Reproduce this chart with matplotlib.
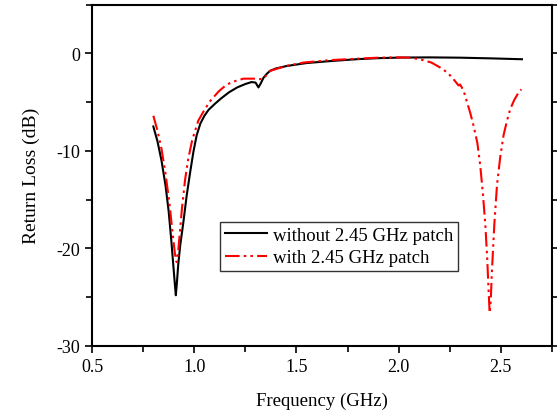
import matplotlib
matplotlib.use("Agg")
import matplotlib.pyplot as plt
from matplotlib.ticker import MultipleLocator

plt.rcParams['font.family'] = ['Liberation Serif', 'DejaVu Serif']
plt.rcParams['axes.unicode_minus'] = False

# Without 2.45 GHz patch (black solid)
f_without = [0.80, 0.82, 0.84, 0.86, 0.875, 0.888, 0.898, 0.905, 0.910, 0.915, 0.922, 0.932,
             0.947, 0.963, 0.980, 0.996, 1.012, 1.03, 1.05, 1.07, 1.10, 1.13, 1.17, 1.21,
             1.25, 1.28, 1.300, 1.314, 1.325, 1.339, 1.355, 1.371, 1.40, 1.453, 1.55, 1.665,
             1.80, 1.90, 2.007, 2.15, 2.30, 2.45, 2.603]
rl_without = [-7.5, -9.0, -11.0, -13.6, -16.2, -19.2, -21.8, -23.6, -24.8, -23.6, -21.6, -19.6,
              -17.3, -14.6, -12.2, -10.1, -8.4, -7.2, -6.4, -5.8, -5.2, -4.65, -4.0, -3.5,
              -3.15, -2.95, -3.0, -3.5, -3.1, -2.5, -2.1, -1.8, -1.55, -1.3, -1.0, -0.8,
              -0.6, -0.5, -0.44, -0.42, -0.45, -0.52, -0.61]

# With 2.45 GHz patch (red dash-dot-dot)
f_with = [0.80, 0.82, 0.84, 0.86, 0.88, 0.895, 0.906, 0.914, 0.922, 0.930, 0.940, 0.955,
          0.970, 0.990, 1.020, 1.05, 1.078, 1.12, 1.159, 1.20, 1.241, 1.29, 1.320, 1.339,
          1.355, 1.371, 1.45, 1.534, 1.665, 1.80, 1.90, 2.007, 2.05, 2.105, 2.16, 2.203,
          2.24, 2.268, 2.293, 2.300, 2.309, 2.320, 2.334, 2.350, 2.366, 2.385, 2.399, 2.412,
          2.424, 2.433, 2.440, 2.445, 2.450, 2.456, 2.468, 2.481, 2.497, 2.513, 2.530,
          2.546, 2.565, 2.587, 2.600]
rl_with = [-6.4, -7.9, -9.8, -12.4, -15.6, -18.6, -20.6, -21.4, -20.2, -18.3, -15.9, -13.0,
           -10.9, -8.9, -6.9, -5.8, -4.9, -3.9, -3.2, -2.85, -2.6, -2.6, -2.65, -2.6,
           -2.2, -1.8, -1.3, -0.95, -0.7, -0.55, -0.45, -0.42, -0.45, -0.61, -0.95, -1.46,
           -2.0, -2.65, -3.3, -3.2, -3.5, -4.0, -5.0, -6.1, -7.4, -9.2, -11.5, -14.4,
           -17.6, -21.0, -24.4, -26.6, -25.5, -22.4, -17.5, -13.5, -10.6, -8.4, -6.9,
           -5.7, -4.8, -4.0, -3.7]

xticks = [0.5, 1.0, 1.5, 2.0, 2.5]
yticks = [0, -10, -20, -30]

fig = plt.figure(figsize=(5.57, 4.14), dpi=100)
ax = fig.add_axes([92/557, (414-347)/414, (552-92)/557, (347-5.5)/414])

ax.plot(f_without, rl_without, color='black', lw=1.5, label='without 2.45 GHz patch')
ax.plot(f_with, rl_with, color='red', lw=1.5, linestyle=(0, (7, 2, 1.2, 2, 1.2, 2)),
        label='with 2.45 GHz patch')

ax.set_xlim(0.5, 2.75)
ax.set_ylim(-30, 5)
ax.set_xticks(xticks)
ax.set_xticklabels(['0.5', '1.0', '1.5', '2.0', '2.5'])
ax.set_yticks(yticks)
ax.xaxis.set_minor_locator(MultipleLocator(0.25))
ax.yaxis.set_minor_locator(MultipleLocator(5))
ax.tick_params(which='both', direction='out', top=False, right=True, labelsize=13, width=1.2)
ax.tick_params(which='major', length=5)
ax.tick_params(which='minor', length=4)
for s in ax.spines.values():
    s.set_linewidth(1.5)

ax.set_xlabel('Frequency (GHz)', fontsize=13.5, labelpad=12)
ax.set_ylabel('Return Loss (dB)', fontsize=14, labelpad=12)

leg = ax.legend(loc='upper left', bbox_to_anchor=(0.279, 0.364),
                fontsize=13.5, frameon=True, fancybox=False, edgecolor='black',
                borderpad=0.25, handlelength=2.25, labelspacing=0.3, handletextpad=0.3,
                borderaxespad=0)
leg.get_frame().set_linewidth(1.0)

fig.savefig('out.png', dpi=100)
